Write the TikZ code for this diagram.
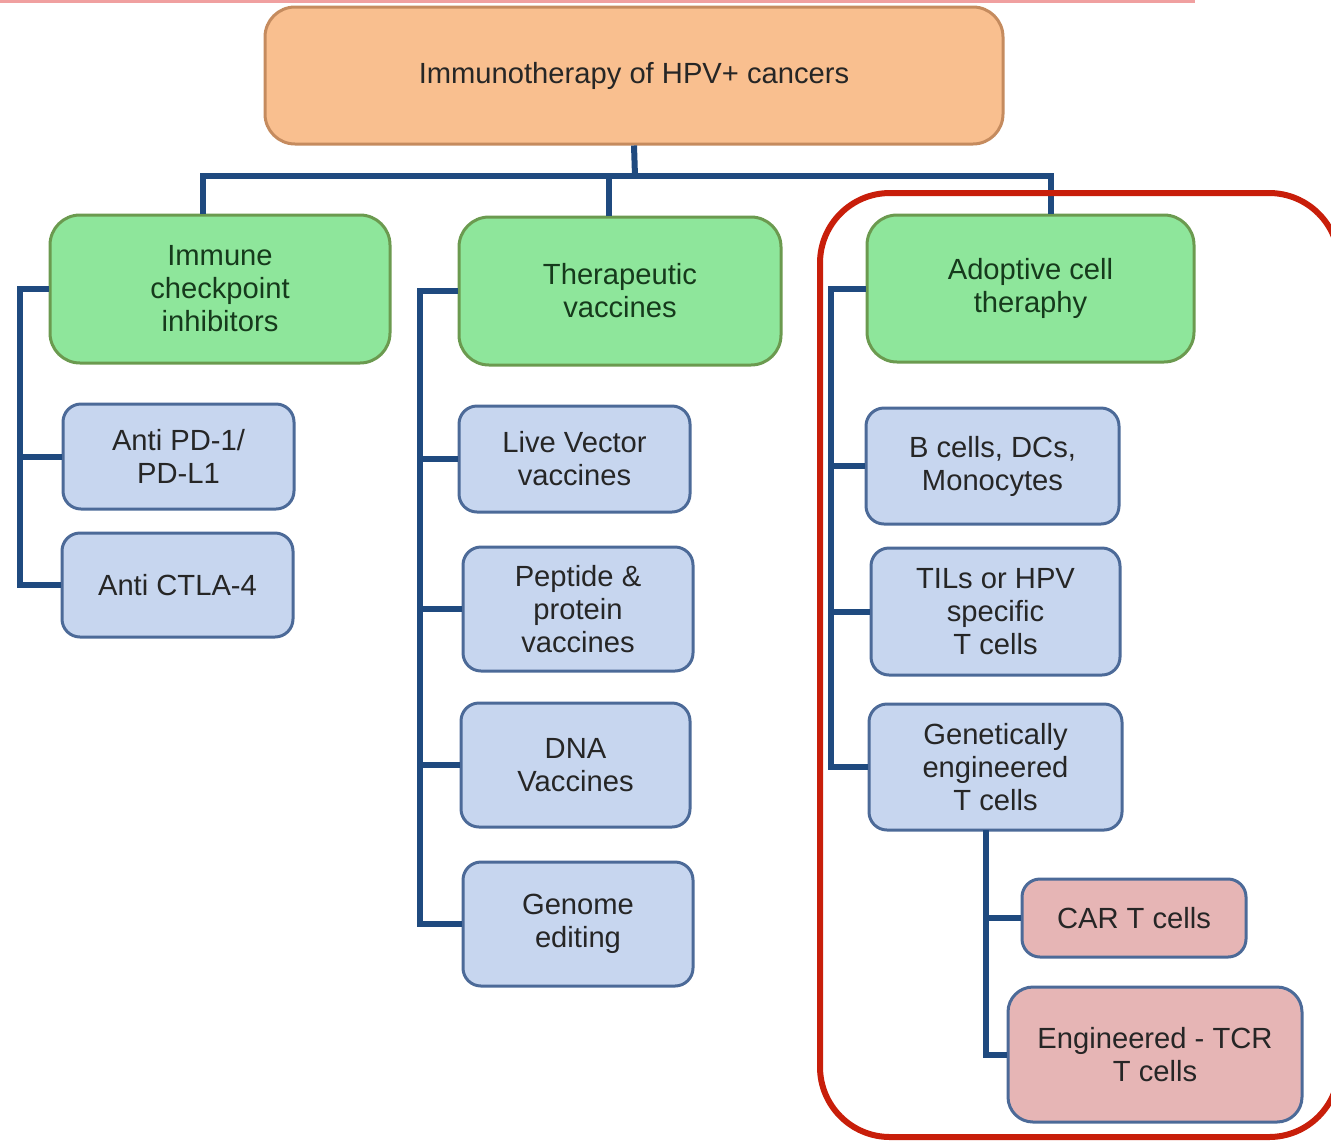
\documentclass[tikz,border=0pt]{standalone}
\usepackage{fontspec}
\setmainfont{Liberation Sans}
\usepackage{xcolor}
\usepackage{tikz}

\definecolor{rootfill}{HTML}{F9BF8F}
\definecolor{rootline}{HTML}{C58B5E}
\definecolor{groupfill}{HTML}{8EE69B}
\definecolor{groupline}{HTML}{6B9A4F}
\definecolor{grouptext}{HTML}{163A1C}
\definecolor{itemfill}{HTML}{C7D6EF}
\definecolor{itemline}{HTML}{4C6A98}
\definecolor{subfill}{HTML}{E6B5B5}
\definecolor{linkblue}{HTML}{1F4A7F}
\definecolor{framered}{HTML}{C81E0A}
\definecolor{topred}{HTML}{F0A0A0}

\tikzset{
    box/.style = {draw, line width = 0.3mm, rounded corners = 0.18cm, align = center, inner sep = 0pt, text = black!85, font = \fontsize{8.3}{9.4}\selectfont},
    rootbox/.style = {box, fill = rootfill, draw = rootline, rounded corners = 0.3cm},
    groupbox/.style = {box, fill = groupfill, draw = groupline, text = grouptext, rounded corners = 0.3cm},
    itembox/.style = {box, fill = itemfill, draw = itemline},
    subbox/.style = {box, fill = subfill, draw = itemline},
    link/.style = {line width = 0.6mm, draw = linkblue},
}

\begin{document}
\begin{tikzpicture}
    \useasboundingbox (+0.000, +0.000) rectangle (+13.310, -11.400);
    \clip (+0.000, +0.000) rectangle (+13.310, -11.400);
    
    \draw[topred, line width = 0.3mm] (+0.000, -0.015) -- (+11.950, -0.015);
    
    % Boxes
    \node[rootbox, minimum width = 7.380cm, minimum height = 1.370cm] (root) at (+6.340, -0.755) {Immunotherapy of HPV+ cancers};
    
    \node[groupbox, minimum width = 3.400cm, minimum height = 1.480cm] (ici) at (+2.200, -2.890) {Immune\\checkpoint\\inhibitors};
    %
    \node[groupbox, minimum width = 3.220cm, minimum height = 1.480cm] (tv) at (+6.200, -2.910) {Therapeutic\\vaccines};
    %
    \node[groupbox, minimum width = 3.270cm, minimum height = 1.470cm] (act) at (+10.305, -2.885) {Adoptive cell\\theraphy};
    
    \node[itembox, minimum width = 2.310cm, minimum height = 1.050cm] (pd1) at (+1.785, -4.565) {Anti PD-1/\\PD-L1};
    %
    \node[itembox, minimum width = 2.310cm, minimum height = 1.040cm] (ctla) at (+1.775, -5.850) {Anti CTLA-4};
    
    \node[itembox, minimum width = 2.310cm, minimum height = 1.060cm] (live) at (+5.745, -4.590) {Live Vector\\vaccines};
    %
    \node[itembox, minimum width = 2.300cm, minimum height = 1.240cm] (pep) at (+5.780, -6.090) {Peptide \&\\protein\\vaccines};
    %
    \node[itembox, minimum width = 2.290cm, minimum height = 1.240cm] (dna) at (+5.755, -7.650) {DNA\\Vaccines};
    %
    \node[itembox, minimum width = 2.300cm, minimum height = 1.240cm] (genome) at (+5.780, -9.240) {Genome\\editing};
    
    \node[itembox, minimum width = 2.530cm, minimum height = 1.160cm] (bcells) at (+9.925, -4.660) {B cells, DCs,\\Monocytes};
    %
    \node[itembox, minimum width = 2.490cm, minimum height = 1.270cm] (tils) at (+9.955, -6.115) {TILs or HPV\\specific\\T cells};
    %
    \node[itembox, minimum width = 2.530cm, minimum height = 1.260cm] (gen) at (+9.955, -7.670) {Genetically\\engineered\\T cells};
    
    \node[subbox, minimum width = 2.240cm, minimum height = 0.780cm] (car) at (+11.340, -9.180) {CAR T cells};
    %
    \node[subbox, minimum width = 2.940cm, minimum height = 1.350cm, rounded corners = 0.25cm] (tcr) at (+11.550, -10.545) {Engineered - TCR\\T cells};
    
    % Lines
    \coordinate (bar) at (+6.350, -1.760);
    \coordinate (icispine) at (+0.200, -2.870);
    \coordinate (tvspine) at (+4.200, -2.830);
    \coordinate (actspine) at (+8.310, -2.850);
    \coordinate (genspine) at (+9.860, -8.300);
    
    \draw[link] (root.south) -- (bar);
    %
    \draw[link] ([xshift = -1.7mm]ici.north) |- (bar) -| ([xshift = 2.0mm]act.north);
    %
    \draw[link] ([xshift = -1.1mm]tv.north) -- ([xshift = -1.1mm]tv.north |- bar);
    
    \draw[link] (ici.west) -- (ici.west -| icispine) |- (ctla.west);
    %
    \draw[link] (pd1.west) -- (pd1.west -| icispine);
    
    \draw[link] (tv.west) -- (tv.west -| tvspine) |- (genome.west);
    %
    \draw[link] (live.west) -- (live.west -| tvspine);
    %
    \draw[link] (pep.west) -- (pep.west -| tvspine);
    %
    \draw[link] (dna.west) -- (dna.west -| tvspine);
    
    \draw[link] (act.west) -- (act.west -| actspine) |- (gen.west);
    %
    \draw[link] (bcells.west) -- (bcells.west -| actspine);
    %
    \draw[link] (tils.west) -- (tils.west -| actspine);
    
    \draw[link] (genspine) |- (tcr.west);
    %
    \draw[link] (car.west) -- (car.west -| genspine);
    
    % Frame
    \draw[framered, line width = 0.6mm, rounded corners = 0.7cm] (+8.200, -1.930) rectangle (+13.390, -11.370);
\end{tikzpicture}
\end{document}
